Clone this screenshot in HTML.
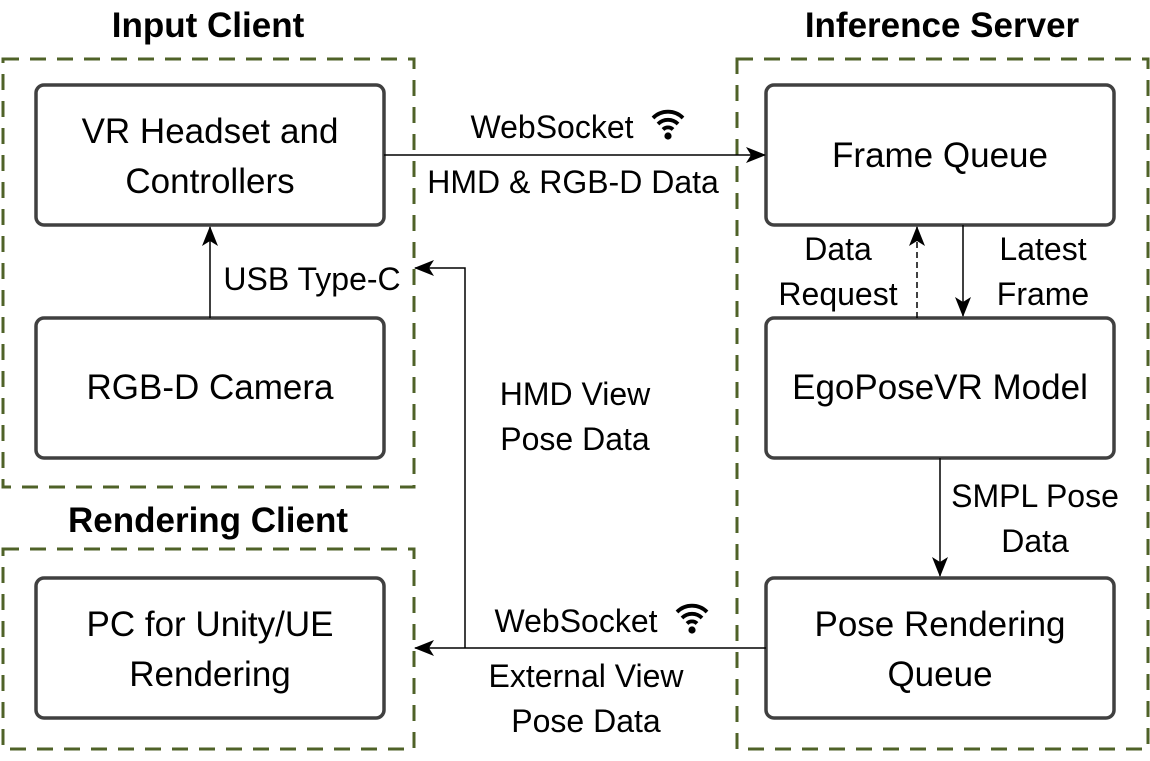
<!DOCTYPE html>
<html><head><meta charset="utf-8"><style>
html,body{margin:0;padding:0;background:#fff;}
svg{display:block;}
text{font-family:"Liberation Sans",sans-serif;fill:#000;}
.t{font-size:35px;text-anchor:middle;}
.l{font-size:32px;text-anchor:middle;}
.h{font-size:35px;font-weight:bold;text-anchor:middle;}
.box{fill:#fff;stroke:#404040;stroke-width:3.5;}
.dash{fill:none;stroke:#4f6228;stroke-width:3;stroke-dasharray:16,11;}
.ln{stroke:#000;stroke-width:1.5;fill:none;}
</style></head><body>
<svg width="1150" height="761" viewBox="0 0 1150 761">
<defs>
<marker id="a" markerWidth="20" markerHeight="16" refX="19" refY="8" orient="auto" markerUnits="userSpaceOnUse" viewBox="0 0 20 16">
<path d="M0,0 L20,8 L0,16 L5,8 Z" fill="#000"/></marker>
<g id="wifi"><path d="M-15,-5 A21,21 0 0 1 15,-5" stroke="#000" stroke-width="3.8" fill="none"/>
<path d="M-10,1 A14,14 0 0 1 10,1" stroke="#000" stroke-width="3.8" fill="none"/>
<path d="M-5,6.5 A7,7 0 0 1 5,6.5" stroke="#000" stroke-width="3.8" fill="none"/>
<circle cx="0" cy="13" r="3.6" fill="#000"/></g>
</defs>
<text class="h" x="208" y="37">Input Client</text>
<text class="h" x="942" y="37">Inference Server</text>
<text class="h" x="208" y="532">Rendering Client</text>
<rect class="dash" x="3" y="59" width="411" height="428"/>
<rect class="dash" x="3" y="549" width="411" height="200"/>
<rect class="dash" x="737" y="59" width="411" height="690"/>

<rect class="box" x="36" y="85" width="348" height="140" rx="8"/>
<text class="t" x="210" y="143">VR Headset and</text>
<text class="t" x="210" y="193">Controllers</text>
<rect class="box" x="36" y="318" width="348" height="140" rx="8"/>
<text class="t" x="210" y="399">RGB-D Camera</text>
<rect class="box" x="36" y="578" width="348" height="140" rx="8"/>
<text class="t" x="210" y="636">PC for Unity/UE</text>
<text class="t" x="210" y="686">Rendering</text>
<rect class="box" x="766" y="85" width="348" height="140" rx="8"/>
<text class="t" x="940" y="167">Frame Queue</text>
<rect class="box" x="766" y="318" width="348" height="140" rx="8"/>
<text class="t" x="940" y="399">EgoPoseVR Model</text>
<rect class="box" x="766" y="578" width="348" height="140" rx="8"/>
<text class="t" x="940" y="636">Pose Rendering</text>
<text class="t" x="940" y="686">Queue</text>

<line class="ln" x1="210" y1="318" x2="210" y2="227" marker-end="url(#a)"/>
<text class="l" x="312" y="290">USB Type-C</text>
<line class="ln" x1="384" y1="155" x2="765" y2="155" marker-end="url(#a)"/>
<text class="l" x="552" y="138">WebSocket</text>
<use href="#wifi" x="668" y="123"/>
<text class="l" x="573" y="193">HMD &amp; RGB-D Data</text>
<line class="ln" x1="917" y1="318" x2="917" y2="227" stroke-dasharray="6,4" marker-end="url(#a)"/>
<line class="ln" x1="963" y1="225" x2="963" y2="316" marker-end="url(#a)"/>
<text class="l" x="838" y="260">Data</text>
<text class="l" x="838" y="305">Request</text>
<text class="l" x="1043" y="260">Latest</text>
<text class="l" x="1043" y="305">Frame</text>
<line class="ln" x1="940" y1="458" x2="940" y2="576" marker-end="url(#a)"/>
<text class="l" x="1035" y="507">SMPL Pose</text>
<text class="l" x="1035" y="552">Data</text>
<line class="ln" x1="766" y1="648" x2="415" y2="648" marker-end="url(#a)"/>
<polyline class="ln" points="465,648 465,268 415,268" marker-end="url(#a)"/>
<text class="l" x="575" y="405">HMD View</text>
<text class="l" x="575" y="450">Pose Data</text>
<text class="l" x="576" y="632">WebSocket</text>
<use href="#wifi" x="692" y="617"/>
<text class="l" x="586" y="687">External View</text>
<text class="l" x="586" y="732">Pose Data</text>
</svg>
</body></html>
